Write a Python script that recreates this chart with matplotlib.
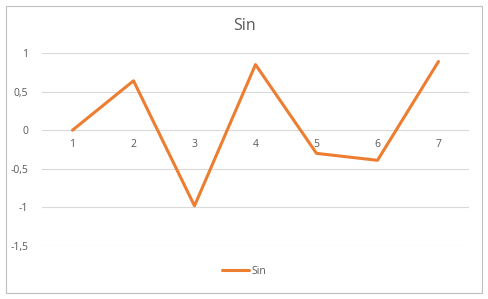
import matplotlib
matplotlib.use("Agg")
import matplotlib.pyplot as plt
from matplotlib.patches import Rectangle

# data
categories = ["1", "2", "3", "4", "5", "6", "7"]
sin_values = [0.0, 0.64, -0.98, 0.85, -0.30, -0.39, 0.89]
y_ticks = [1, 0.5, 0, -0.5, -1, -1.5]
y_labels = ["1", "0,5", "0", "-0,5", "-1", "-1,5"]

plt.rcParams['font.family'] = ['Open Sans', 'DejaVu Sans']
grey = '#595959'

fig = plt.figure(figsize=(4.88, 2.99), dpi=100)
fig.patch.set_facecolor('white')

# chart area border like excel
fig.patches.append(Rectangle((6 / 488, 6 / 299), 476 / 488, 287 / 299,
                             transform=fig.transFigure, fill=False,
                             edgecolor='#BFBFBF', linewidth=0.8))

ax = fig.add_axes([42 / 488, 1 - 246 / 299, 427 / 488, 193 / 299])
x = list(range(len(categories)))
ax.plot(x, sin_values, color='#ED7D31', linewidth=2.2, label='Sin',
        solid_capstyle='round', solid_joinstyle='round')

ax.set_xlim(-0.5, len(categories) - 0.5)
ax.set_ylim(-1.5, 1)
ax.set_yticks(y_ticks)
ax.set_yticklabels(y_labels)
ax.set_xticks(x)
ax.set_xticklabels(categories)
ax.yaxis.grid(True, color='#D9D9D9', linewidth=0.8)
ax.set_axisbelow(True)

for s in ['top', 'right', 'left']:
    ax.spines[s].set_visible(False)
ax.spines['bottom'].set_position(('data', 0))
ax.spines['bottom'].set_visible(False)
ax.tick_params(axis='both', length=0, labelsize=7.5, labelcolor=grey)
ax.tick_params(axis='y', pad=10)
ax.tick_params(axis='x', pad=6)

fig.text(0.5, 1 - 26 / 299, 'Sin', ha='center', va='center', fontsize=11.5, color=grey)

fig.legend(loc='center', bbox_to_anchor=(0.5, 1 - 271 / 299), frameon=False,
           fontsize=7.5, labelcolor=grey, handlelength=2.6, handletextpad=0.2)

fig.savefig('out.png', dpi=100)
